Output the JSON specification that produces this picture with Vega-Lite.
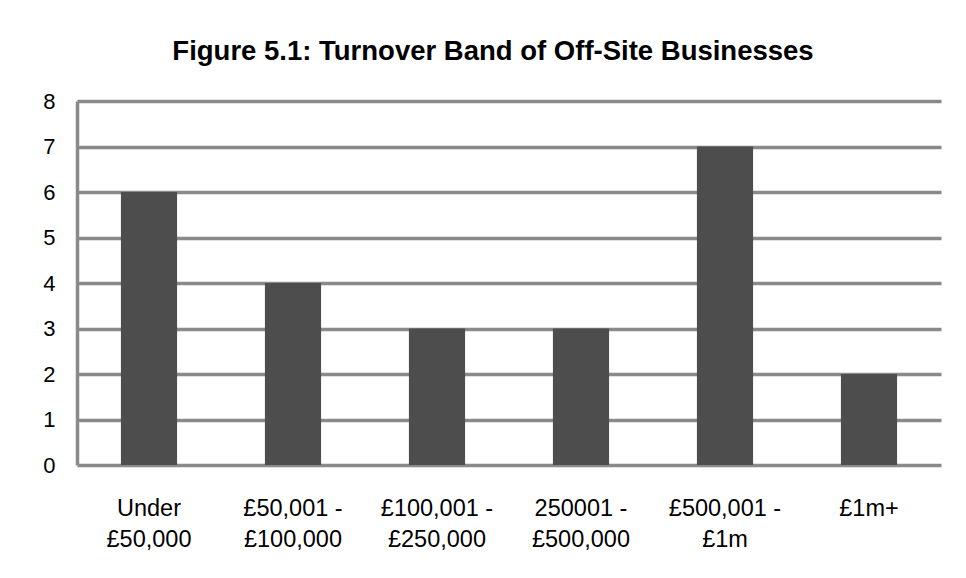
{
  "$schema": "https://vega.github.io/schema/vega-lite/v6.json",
  "width": 864,
  "height": 364,
  "autosize": {"type": "none"},
  "padding": {"left": 77, "top": 101, "right": 25, "bottom": 113},
  "background": "white",
  "title": {
    "text": "Figure 5.1: Turnover Band of Off-Site Businesses",
    "font": "Liberation Sans",
    "fontSize": 27.5,
    "fontWeight": "bold",
    "color": "black",
    "anchor": "middle",
    "dx": -16,
    "offset": 3,
    "baseline": "alphabetic"
  },
  "data": {
    "values": [
      {"band": "Under\n£50,000", "count": 6},
      {"band": "£50,001 -\n£100,000", "count": 4},
      {"band": "£100,001 -\n£250,000", "count": 3},
      {"band": "250001 -\n£500,000", "count": 3},
      {"band": "£500,001 -\n£1m", "count": 7},
      {"band": "£1m+", "count": 2}
    ]
  },
  "mark": {"type": "bar", "color": "#4d4d4d", "width": {"band": 0.39}},
  "encoding": {
    "x": {
      "field": "band",
      "type": "nominal",
      "sort": null,
      "scale": {"paddingInner": 0, "paddingOuter": 0},
      "axis": {
        "title": null,
        "labelAngle": 0,
        "labelExpr": "split(datum.value, '\\n')",
        "labelFont": "Liberation Sans",
        "labelFontSize": 23.5,
        "labelColor": "black",
        "labelLineHeight": 31,
        "labelBaseline": "top",
        "labelPadding": 31,
        "labelLimit": 300,
        "ticks": false,
        "domain": false,
        "grid": false
      }
    },
    "y": {
      "field": "count",
      "type": "quantitative",
      "scale": {"domain": [0, 8], "nice": false},
      "axis": {
        "title": null,
        "values": [0, 1, 2, 3, 4, 5, 6, 7, 8],
        "labelFont": "Liberation Sans",
        "labelFontSize": 22,
        "labelColor": "black",
        "labelPadding": 22,
        "ticks": false,
        "domainColor": "#8a8a8a",
        "domainWidth": 3.5,
        "gridColor": "#8a8a8a",
        "gridWidth": 3.5,
        "gridOpacity": 1
      }
    }
  },
  "config": {"view": {"stroke": null}}
}
